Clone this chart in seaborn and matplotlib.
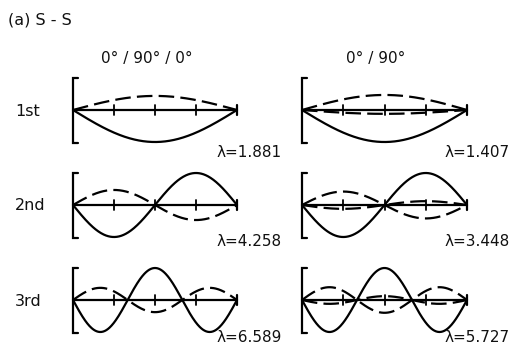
import numpy as np
import matplotlib
matplotlib.use("Agg")
import matplotlib.pyplot as plt
import seaborn as sns

# ---- data ----
layups = ["0° / 90° / 0°", "0° / 90°"]
mode_labels = ["1st", "2nd", "3rd"]
mode_numbers = [1, 2, 3]
lambdas_sym = [1.881, 4.258, 6.589]
lambdas_unsym = [1.407, 3.448, 5.727]
solid_amp_sym = [-1.0, -1.0, -1.0]
solid_amp_unsym = [-1.0, -1.0, -1.0]
dashed_amp_sym = [0.44, 0.47, 0.38]
dashed_amp_unsym = [0.47, 0.42, 0.40]
dashed2_amp_unsym = [-0.12, -0.12, -0.12]
tick_positions = [0.25, 0.5, 0.75]

sns.set_theme(style="white")
plt.rcParams['font.family'] = ['DejaVu Sans']
plt.rcParams['text.color'] = '#111111'

W, H = 511, 354
fig = plt.figure(figsize=(W / 100, H / 100), dpi=100)
fig.patch.set_facecolor("white")

def fx(px):
    return px / W

def fy(py):
    return 1 - py / H

col_left = [73, 302]
col_width = [164, 165]
row_center = [110, 205, 300]
unit = 32.0  # px per unit amplitude
ylim = 1.25
lam_right = [282, 510]
lam_y = [153, 242, 338]
title_x = [147, 376]

lambdas = [lambdas_sym, lambdas_unsym]
solid_amp = [solid_amp_sym, solid_amp_unsym]
dashed_amp = [dashed_amp_sym, dashed_amp_unsym]
dashed2_amp = [None, dashed2_amp_unsym]

xs = np.linspace(0, 1, 300)
lw = 1.6
dash = (0, (7.0, 2.8))

fig.text(fx(8), fy(20), "(a) S - S", fontsize=11.5, ha="left", va="center")
for c in range(2):
    fig.text(fx(title_x[c]), fy(58), layups[c], fontsize=11, ha="center", va="center")

for r in range(3):
    fig.text(fx(15), fy(row_center[r] + 1), mode_labels[r], fontsize=11.5, ha="left", va="center")
    n = mode_numbers[r]
    for c in range(2):
        hpx = 2 * ylim * unit
        ax = fig.add_axes([fx(col_left[c]), fy(row_center[r] + hpx / 2),
                           col_width[c] / W, hpx / H])
        ax.set_xlim(0, 1)
        ax.set_ylim(-ylim, ylim)
        ax.axis("off")
        shape = np.sin(n * np.pi * xs)
        sns.lineplot(x=xs, y=solid_amp[c][r] * shape, ax=ax, color="black",
                     lw=lw, clip_on=False)
        sns.lineplot(x=xs, y=dashed_amp[c][r] * shape, ax=ax, color="black",
                     lw=lw, linestyle=dash, clip_on=False)
        if dashed2_amp[c] is not None:
            sns.lineplot(x=xs, y=dashed2_amp[c][r] * shape, ax=ax, color="black",
                         lw=lw, linestyle=dash, clip_on=False)
        # beam axis
        ax.plot([0, 1], [0, 0], color="black", lw=1.6, clip_on=False)
        for t in tick_positions:
            ax.plot([t, t], [-0.15, 0.15], color="black", lw=1.3, clip_on=False)
        ax.plot([1, 1], [-0.17, 0.17], color="black", lw=1.6, clip_on=False)
        # bracket (support)
        ax.plot([0.03, 0, 0, 0.03], [1.0, 1.0, -1.03, -1.03], color="black",
                lw=1.6, clip_on=False, solid_joinstyle="miter")
        fig.text(fx(lam_right[c]), fy(lam_y[r]), f"λ={lambdas[c][r]:.3f}",
                 fontsize=11, ha="right", va="center")

fig.savefig("out.png", dpi=100, facecolor="white")
